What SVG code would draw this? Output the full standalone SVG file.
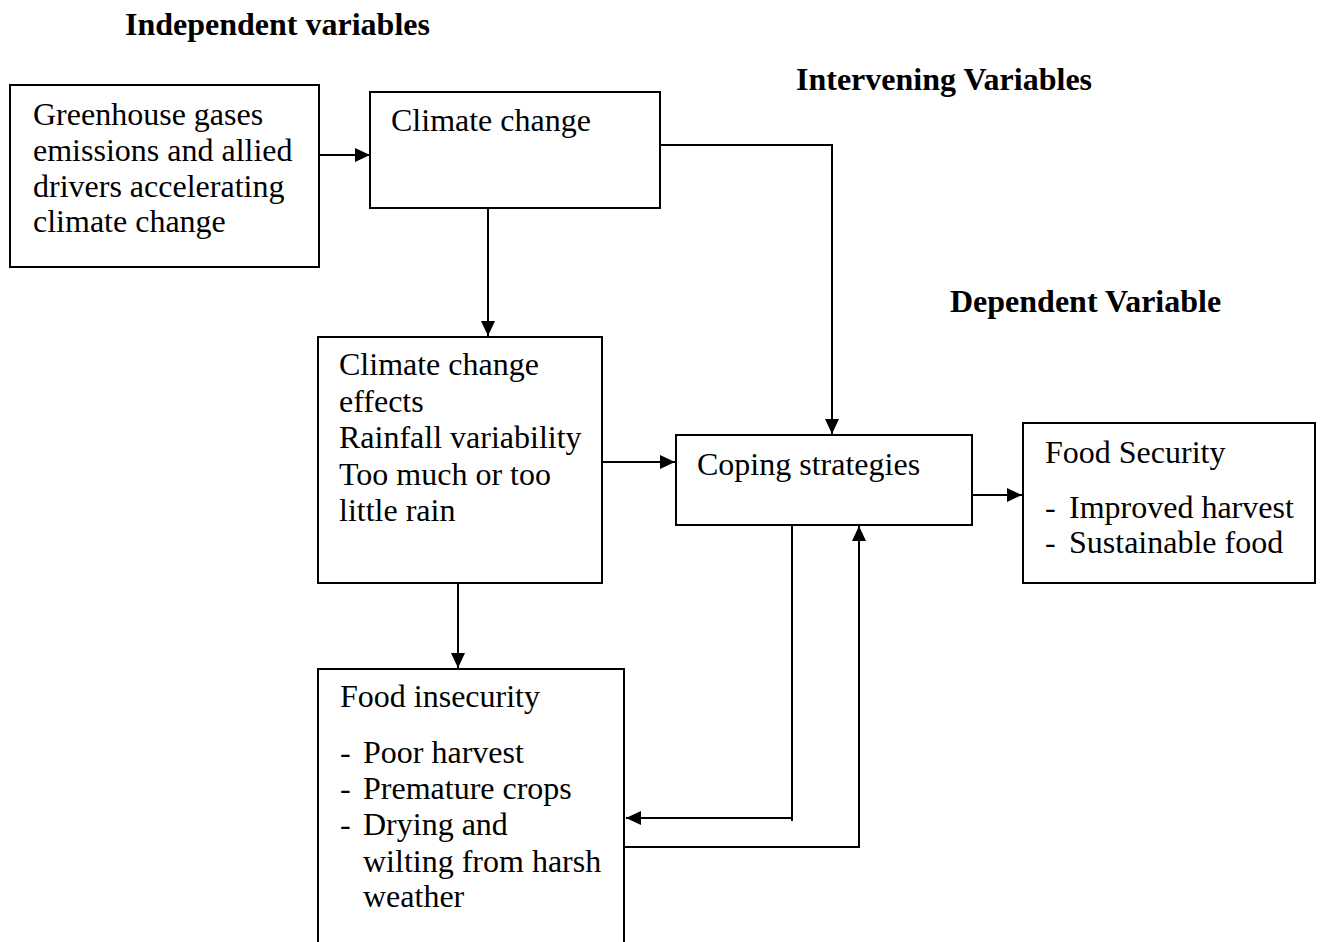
<svg xmlns="http://www.w3.org/2000/svg" width="1322" height="942" viewBox="0 0 1322 942">
<defs>
<style>
.box{fill:#fff;stroke:#000;stroke-width:2}
.t{font-family:"Liberation Serif","Times New Roman",serif;font-size:32px;fill:#000}
.h{font-family:"Liberation Serif","Times New Roman",serif;font-size:32px;font-weight:bold;fill:#000}
.c{fill:none;stroke:#000;stroke-width:2}
</style>
<marker id="ah" markerUnits="userSpaceOnUse" markerWidth="16" markerHeight="14" refX="15" refY="7" orient="auto">
<path d="M0,0 L15,7 L0,14 z" fill="#000"/>
</marker>
</defs>
<rect width="1322" height="942" fill="#fff"/>
<g id="headings">
<text class="h" x="125" y="35">Independent variables</text>
<text class="h" x="796" y="90">Intervening Variables</text>
<text class="h" x="950" y="312">Dependent Variable</text>
</g>
<g id="connectors">
<path class="c" d="M319,155 H370" marker-end="url(#ah)"/>
<path class="c" d="M660,145 H832 V434" marker-end="url(#ah)"/>
<path class="c" d="M488,208 V336" marker-end="url(#ah)"/>
<path class="c" d="M602,462 H675" marker-end="url(#ah)"/>
<path class="c" d="M972,495 H1022" marker-end="url(#ah)"/>
<path class="c" d="M458,583 V668" marker-end="url(#ah)"/>
<path class="c" d="M792,525 V821"/>
<path class="c" d="M792,818 H626" marker-end="url(#ah)"/>
<path class="c" d="M625,847 H859 V526" marker-end="url(#ah)"/>
</g>
<g id="greenhouse">
<rect class="box" x="10" y="85" width="309" height="182"/>
<text class="t" x="33" y="125">Greenhouse gases</text>
<text class="t" x="33" y="161">emissions and allied</text>
<text class="t" x="33" y="197">drivers accelerating</text>
<text class="t" x="33" y="232">climate change</text>
</g>
<g id="climate-change">
<rect class="box" x="370" y="92" width="290" height="116"/>
<text class="t" x="391" y="131">Climate change</text>
</g>
<g id="effects">
<rect class="box" x="318" y="337" width="284" height="246"/>
<text class="t" x="339" y="375">Climate change</text>
<text class="t" x="339" y="412">effects</text>
<text class="t" x="339" y="448">Rainfall variability</text>
<text class="t" x="339" y="485">Too much or too</text>
<text class="t" x="339" y="521">little rain</text>
</g>
<g id="coping">
<rect class="box" x="676" y="435" width="296" height="90"/>
<text class="t" x="697" y="475">Coping strategies</text>
</g>
<g id="food-security">
<rect class="box" x="1023" y="423" width="292" height="160"/>
<text class="t" x="1045" y="463">Food Security</text>
<text class="t" x="1045" y="518">-</text>
<text class="t" x="1069" y="518">Improved harvest</text>
<text class="t" x="1045" y="553">-</text>
<text class="t" x="1069" y="553">Sustainable food</text>
</g>
<g id="food-insecurity">
<rect class="box" x="318" y="669" width="306" height="290"/>
<text class="t" x="340" y="707">Food insecurity</text>
<text class="t" x="340" y="763">-</text>
<text class="t" x="363" y="763">Poor harvest</text>
<text class="t" x="340" y="799">-</text>
<text class="t" x="363" y="799">Premature crops</text>
<text class="t" x="340" y="835">-</text>
<text class="t" x="363" y="835">Drying and</text>
<text class="t" x="363" y="872">wilting from harsh</text>
<text class="t" x="363" y="907">weather</text>
</g>
</svg>
